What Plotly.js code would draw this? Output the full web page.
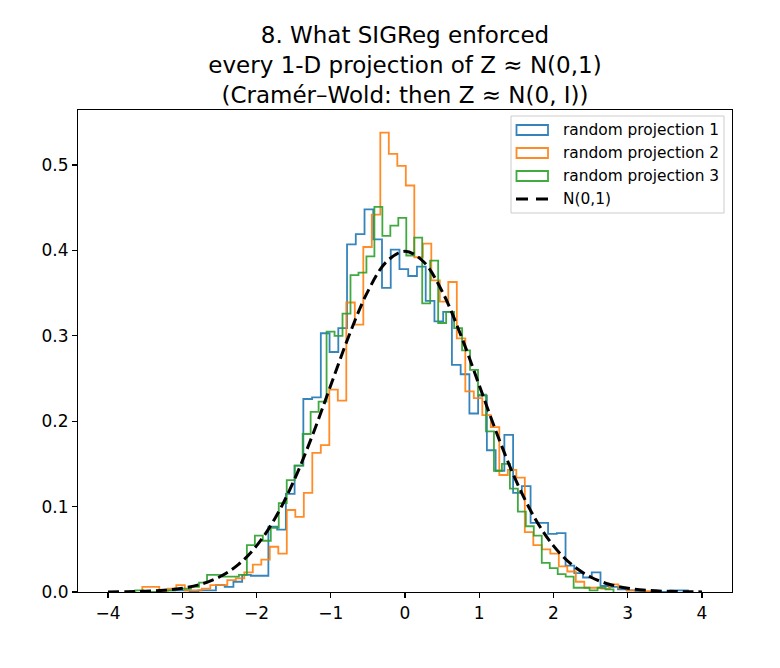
<!DOCTYPE html>
<html>
<head>
<meta charset="utf-8">
<script src="https://cdn.plot.ly/plotly-3.0.1.min.js"></script>
<style>html,body{margin:0;padding:0;background:#fff;}#chart{width:780px;height:668px;}</style>
</head>
<body>
<div id="chart"></div>
<script>
// Histogram definitions (density), 60 bins each
const binStart1 = -3.2525, binWidth1 = 0.11771;
const density1 = [0.002,0.002,0.002,0.0,0.002,0.002,0.008,0.006,0.012,0.020,
  0.019,0.019,0.0765,0.073,0.115,0.148,0.226,0.228,0.303,0.281,
  0.309,0.407,0.419,0.448,0.413,0.356,0.401,0.378,0.370,0.381,
  0.341,0.317,0.328,0.266,0.255,0.209,0.230,0.166,0.142,0.184,
  0.116,0.124,0.081,0.081,0.068,0.069,0.031,0.022,0.017,0.023,
  0.007,0.006,0.003,0.002,0.0,0.0,0.0,0.0,0.002,0.002];

const binStart2 = -3.5380, binWidth2 = 0.11448;
const density2 = [0.006,0.006,0.0,0.004,0.008,0.002,0.002,0.004,0.008,0.008,
  0.014,0.016,0.023,0.032,0.038,0.053,0.045,0.096,0.088,0.116,
  0.163,0.172,0.237,0.224,0.339,0.313,0.404,0.442,0.538,0.513,
  0.499,0.476,0.392,0.408,0.365,0.340,0.363,0.297,0.235,0.227,
  0.207,0.193,0.137,0.143,0.134,0.070,0.055,0.050,0.045,0.030,
  0.024,0.012,0.005,0.005,0.004,0.009,0.005,0.002,0.002,0.001];

const binStart3 = -3.6323, binWidth3 = 0.10734;
const density3 = [0.002,0.0,0.0,0.002,0.002,0.004,0.004,0.006,0.011,0.020,
  0.020,0.018,0.018,0.020,0.055,0.066,0.060,0.075,0.104,0.131,
  0.148,0.185,0.211,0.223,0.305,0.300,0.326,0.371,0.374,0.393,
  0.451,0.417,0.429,0.438,0.394,0.415,0.338,0.388,0.315,0.328,
  0.309,0.283,0.260,0.231,0.188,0.142,0.150,0.121,0.094,0.077,
  0.066,0.034,0.028,0.021,0.018,0.005,0.005,0.002,0.005,0.003];

// N(0,1) reference curve, sampled values
const normX = [-4,-3.75,-3.5,-3.25,-3,-2.75,-2.5,-2.25,-2,-1.75,-1.5,-1.25,-1,-0.75,-0.5,-0.25,0,
  0.25,0.5,0.75,1,1.25,1.5,1.75,2,2.25,2.5,2.75,3,3.25,3.5,3.75,4];
const normY = [0.00013,0.00035,0.00087,0.00203,0.00443,0.00909,0.01753,0.03174,0.05399,0.08628,0.12952,0.18265,0.24197,0.30114,0.35207,0.38667,0.39894,
  0.38667,0.35207,0.30114,0.24197,0.18265,0.12952,0.08628,0.05399,0.03174,0.01753,0.00909,0.00443,0.00203,0.00087,0.00035,0.00013];

const seriesNames = ['random projection 1','random projection 2','random projection 3','N(0,1)'];
const seriesColors = ['#1f77b4','#ff7f0e','#2ca02c','#000000'];
const titleLines = ['8. What SIGReg enforced','every 1-D projection of Z \u2248 N(0,1)','(Cram\u00e9r\u2013Wold: then Z \u2248 N(0, I))'];
const xTicks = [-4,-3,-2,-1,0,1,2,3,4];
const yTicks = [0,0.1,0.2,0.3,0.4,0.5];

function stepOutline(start, width, vals){
  const xs = [], ys = [];
  xs.push(start); ys.push(0);
  for (let i = 0; i < vals.length; i++){
    const a = start + i*width, b = start + (i+1)*width;
    xs.push(a); ys.push(vals[i]);
    xs.push(b); ys.push(vals[i]);
  }
  xs.push(start + vals.length*width); ys.push(0);
  return {x: xs, y: ys};
}

const hists = [[binStart1,binWidth1,density1],[binStart2,binWidth2,density2],[binStart3,binWidth3,density3]];
const traces = hists.map((h,i)=>{
  const o = stepOutline(h[0],h[1],h[2]);
  return {x:o.x, y:o.y, type:'scatter', mode:'lines', name:seriesNames[i], showlegend:false,
    line:{color:seriesColors[i], width:1.8, shape:'linear'}, opacity:0.9, hoverinfo:'skip'};
});
traces.push({x:normX, y:normY, type:'scatter', mode:'lines', name:seriesNames[3], showlegend:false,
  line:{color:'#000000', width:3, dash:'11px,5px', shape:'spline', smoothing:1.0}});

// Legend drawn in paper coordinates (pixel layout converted to the plot box)
const L = 78, R = 732, T = 110, B = 592;
const px = v => (v - L) / (R - L);
const py = v => (B - v) / (B - T);
const shapes = [];
const annotations = [];
shapes.push({type:'rect', xref:'paper', yref:'paper', x0:px(511), x1:px(724), y0:py(213), y1:py(116),
  fillcolor:'rgba(255,255,255,0.8)', line:{color:'#cccccc', width:1}, layer:'above'});
const rowY = [130, 153, 176, 199];
for (let i = 0; i < 3; i++){
  shapes.push({type:'rect', xref:'paper', yref:'paper', x0:px(516.5), x1:px(548), y0:py(rowY[i]+5), y1:py(rowY[i]-5),
    line:{color:seriesColors[i], width:1.8}, fillcolor:'rgba(0,0,0,0)', opacity:0.9, layer:'above'});
}
shapes.push({type:'line', xref:'paper', yref:'paper', x0:px(516), x1:px(549), y0:py(rowY[3]), y1:py(rowY[3]),
  line:{color:'#000', width:3, dash:'12px,8px'}, layer:'above'});
for (let i = 0; i < 4; i++){
  annotations.push({xref:'paper', yref:'paper', x:px(561), y:py(rowY[i]), xanchor:'left', yanchor:'middle',
    text:seriesNames[i], showarrow:false, font:{size:15.4, color:'#000'}});
}

const font = 'DejaVu Sans, Liberation Sans, sans-serif';
const layout = {
  width:780, height:668,
  margin:{l:78, r:48, t:110, b:76, pad:0},
  paper_bgcolor:'#ffffff', plot_bgcolor:'#ffffff',
  font:{family:font, color:'#000000', size:17},
  title:{text:titleLines.join('<br>'), x:0.5, xref:'paper', xanchor:'center',
    y:1-43/668, yref:'container', yanchor:'middle', font:{family:font, size:23, color:'#000'}},
  xaxis:{range:[-4.404,4.404], tickvals:xTicks, ticktext:xTicks.map(v=>v<0?'\u2212'+Math.abs(v):String(v)),
    showgrid:false, zeroline:false, showline:true, mirror:true, linecolor:'#000', linewidth:1.1,
    ticks:'outside', ticklen:5, tickwidth:1.1, tickcolor:'#000', tickfont:{size:17}},
  yaxis:{range:[0,0.5644], tickvals:yTicks, ticktext:yTicks.map(v=>v.toFixed(1)),
    showgrid:false, zeroline:false, showline:true, mirror:true, linecolor:'#000', linewidth:1.1,
    ticks:'outside', ticklen:5, tickwidth:1.1, tickcolor:'#000', tickfont:{size:17}},
  shapes: shapes,
  annotations: annotations,
  showlegend:false
};
Plotly.newPlot('chart', traces, layout, {displayModeBar:false, staticPlot:true});
</script>
</body>
</html>
